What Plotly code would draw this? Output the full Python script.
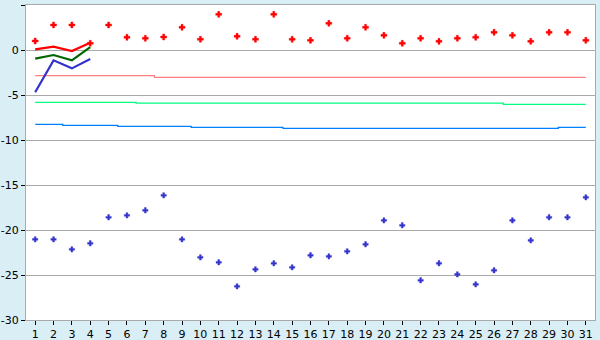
import plotly.graph_objects as go

days = list(range(1, 32))

red_points = [1.0, 2.78, 2.78, 0.74, 2.78, 1.41, 1.3, 1.44, 2.52, 1.19,
              3.96, 1.52, 1.19, 3.96, 1.19, 1.07, 2.96, 1.3, 2.52, 1.63,
              0.74, 1.3, 0.96, 1.3, 1.41, 1.96, 1.63, 0.96, 1.96, 1.96, 1.07]

blue_points = [-21.04, -21.04, -22.15, -21.48, -18.59, -18.37, -17.81, -16.15, -21.04, -23.04,
               -23.59, -26.26, -24.37, -23.7, -24.15, -22.81, -22.93, -22.37, -21.59, -18.93,
               -19.48, -25.59, -23.7, -24.93, -26.04, -24.48, -18.93, -21.15, -18.59, -18.59, -16.37]

line_days = [1, 2, 3, 4]
red_line = [0.07, 0.37, -0.11, 0.81]
green_line = [-0.96, -0.56, -1.15, 0.33]
blue_line = [-4.7, -1.15, -2.04, -1.0]

pink_level = [-2.85] * 7 + [-3.04] * 24
green_level = [-5.81] * 6 + [-5.9] * 20 + [-6.04] * 5
blue_level = [-8.26] * 2 + [-8.37] * 3 + [-8.48] * 4 + [-8.59] * 5 + [-8.7] * 15 + [-8.59] * 2

y_ticks = [5, 0, -5, -10, -15, -20, -25, -30]
y_tick_text = ["5", "0", "-5", "-10", "-15", "-20", "-25", "-30"]

fig = go.Figure()

fig.add_trace(go.Scatter(x=days, y=pink_level, mode="lines", line=dict(color="#FF8080", width=1.3, shape="hvh")))
fig.add_trace(go.Scatter(x=days, y=green_level, mode="lines", line=dict(color="#00FF80", width=1.3, shape="hvh")))
fig.add_trace(go.Scatter(x=days, y=blue_level, mode="lines", line=dict(color="#0080FF", width=1.3, shape="hvh")))

fig.add_trace(go.Scatter(x=line_days, y=blue_line, mode="lines", line=dict(color="#3333CC", width=2.2)))
fig.add_trace(go.Scatter(x=line_days, y=green_line, mode="lines", line=dict(color="#006600", width=2.2)))
fig.add_trace(go.Scatter(x=line_days, y=red_line, mode="lines", line=dict(color="#FF0000", width=2.2)))

fig.add_trace(go.Scatter(x=days, y=red_points, mode="markers",
                         marker=dict(symbol="cross", size=5, color="#FF0000", line=dict(width=0.4, color="#FF0000"))))
fig.add_trace(go.Scatter(x=days, y=blue_points, mode="markers",
                         marker=dict(symbol="cross", size=4.5, color="#3333CC", line=dict(width=0.4, color="#3333CC"))))

fig.update_layout(
    width=600, height=340,
    margin=dict(l=26, r=5, t=5, b=20),
    paper_bgcolor="#D9EEF5",
    plot_bgcolor="#FFFFFF",
    showlegend=False,
    font=dict(family="DejaVu Sans", size=12, color="#000000"),
)

fig.update_xaxes(
    range=[0.5, 31.5], automargin=False,
    tickmode="array", tickvals=days, ticktext=[str(d) for d in days],
    showgrid=False, zeroline=False,
    showline=True, linecolor="#AAAAAA", linewidth=1, mirror=True,
    ticks="outside", ticklen=4, tickcolor="#000000",
    ticklabelstandoff=0,
    tickfont=dict(size=11),
)
fig.update_yaxes(
    range=[-30, 5], automargin=False,
    tickmode="array", tickvals=y_ticks, ticktext=y_tick_text,
    showgrid=True, gridcolor="#AAAAAA", gridwidth=1, zeroline=False,
    showline=True, linecolor="#AAAAAA", linewidth=1, mirror=True,
    ticks="outside", ticklen=4, tickcolor="#000000",
    ticklabelstandoff=0,
    tickfont=dict(size=11),
)

fig.write_html("out.html")
